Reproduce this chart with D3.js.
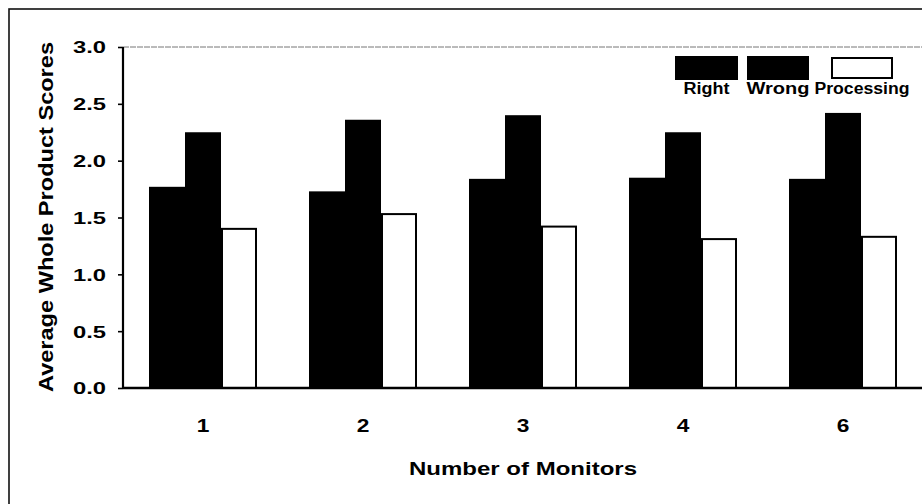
<!DOCTYPE html>
<html>
<head>
<meta charset="utf-8">
<script src="https://cdn.jsdelivr.net/npm/d3@7"></script>
<style>
  html, body { margin: 0; padding: 0; background: #fff; }
  svg { display: block; }
  text { font-family: "Liberation Sans", Arial, Helvetica, sans-serif; font-weight: bold; fill: #000; }
</style>
</head>
<body>
<svg id="chart" width="922" height="504"></svg>
<script>
// Average whole product scores by number of monitors
const categories = ["1", "2", "3", "4", "6"];
const seriesNames = ["Right", "Wrong", "Processing"];
const rightScores = [1.77, 1.73, 1.84, 1.85, 1.84];
const wrongScores = [2.25, 2.36, 2.40, 2.25, 2.42];
const processingScores = [1.40, 1.53, 1.42, 1.31, 1.33];
const yTicks = [0, 0.5, 1.0, 1.5, 2.0, 2.5, 3.0];

const seriesValues = { Right: rightScores, Wrong: wrongScores, Processing: processingScores };
const seriesFill = { Right: "#000", Wrong: "#000", Processing: "#fff" };

const svg = d3.select("#chart");
const W = 922, H = 504;
const plot = { left: 123, right: 923, top: 47, bottom: 388 };

// outer frame (runs off the right and bottom edges)
svg.append("rect")
  .attr("x", 9).attr("y", 9)
  .attr("width", W + 20).attr("height", H + 20)
  .attr("fill", "none").attr("stroke", "#111").attr("stroke-width", 1.6);

const x = d3.scaleBand()
  .domain(categories)
  .range([plot.left, plot.right])
  .paddingInner(0.325)
  .paddingOuter(0.1625);

const xSub = d3.scaleBand()
  .domain(seriesNames)
  .range([0, x.bandwidth()])
  .padding(0);

const y = d3.scaleLinear().domain([0, 3]).range([plot.bottom, plot.top]);

// faint top edge of the plot area
svg.append("line")
  .attr("x1", plot.left).attr("x2", W)
  .attr("y1", plot.top).attr("y2", plot.top)
  .attr("stroke", "#777").attr("stroke-width", 1)
  .attr("stroke-dasharray", "6,1");

// bars
const rows = categories.map((c, i) => ({
  cat: c,
  vals: seriesNames.map(s => ({ series: s, value: seriesValues[s][i] }))
}));

const groups = svg.append("g").selectAll("g")
  .data(rows).join("g")
  .attr("transform", d => `translate(${x(d.cat)},0)`);

groups.selectAll("rect")
  .data(d => d.vals).join("rect")
  .attr("x", d => xSub(d.series) + (d.series === "Processing" ? 1 : 0))
  .attr("y", d => y(d.value))
  .attr("width", d => xSub.bandwidth() - (d.series === "Processing" ? 2 : 0))
  .attr("height", d => y(0) - y(d.value))
  .attr("fill", d => seriesFill[d.series])
  .attr("stroke", d => d.series === "Processing" ? "#000" : "none")
  .attr("stroke-width", 2);

// y axis
const yAxis = svg.append("g")
  .attr("transform", `translate(${plot.left},0)`)
  .call(d3.axisLeft(y).tickValues(yTicks).tickFormat(d3.format(".1f")).tickSize(5).tickPadding(12));
yAxis.select(".domain").attr("stroke", "#000").attr("stroke-width", 2.2)
  .attr("d", `M0,${plot.top}V${plot.bottom}`);
yAxis.selectAll(".tick line").attr("stroke", "#000").attr("stroke-width", 1.6);
yAxis.selectAll(".tick text")
  .attr("font-size", 16.5)
  .attr("textLength", 33)
  .attr("lengthAdjust", "spacingAndGlyphs")
  .attr("dy", "0.36em")
  .style("font-family", "'Liberation Sans', Arial, sans-serif")
  .style("font-weight", "bold");

// x axis
const xAxis = svg.append("g")
  .attr("transform", `translate(0,${plot.bottom})`)
  .call(d3.axisBottom(x).tickSize(0).tickPadding(32));
xAxis.select(".domain").attr("stroke", "#000").attr("stroke-width", 2.6)
  .attr("d", `M${plot.left},0H${W}`);
xAxis.selectAll(".tick text")
  .attr("font-size", 17.5)
  .attr("transform", "scale(1.3,1)")
  .style("font-family", "'Liberation Sans', Arial, sans-serif")
  .style("font-weight", "bold");

// axis titles
svg.append("text")
  .attr("transform", `translate(53,217) rotate(-90)`)
  .attr("text-anchor", "middle")
  .attr("font-size", 20)
  .attr("textLength", 350)
  .attr("lengthAdjust", "spacingAndGlyphs")
  .text("Average Whole Product Scores");

svg.append("text")
  .attr("x", 523).attr("y", 475)
  .attr("text-anchor", "middle")
  .attr("font-size", 19)
  .attr("textLength", 228)
  .attr("lengthAdjust", "spacingAndGlyphs")
  .text("Number of Monitors");

// legend
const legendItems = [
  { name: "Right", x: 675, w: 63, textW: 46 },
  { name: "Wrong", x: 747, w: 62, textW: 63 },
  { name: "Processing", x: 832, w: 60, textW: 95 }
];
const legend = svg.append("g");
legendItems.forEach(it => {
  const outlined = seriesFill[it.name] === "#fff";
  legend.append("rect")
    .attr("x", it.x).attr("y", outlined ? 58 : 56)
    .attr("width", it.w).attr("height", outlined ? 20 : 24)
    .attr("fill", seriesFill[it.name])
    .attr("stroke", outlined ? "#000" : "none")
    .attr("stroke-width", 2);
  legend.append("text")
    .attr("x", it.x + it.w / 2).attr("y", 94)
    .attr("text-anchor", "middle")
    .attr("font-size", 16)
    .attr("textLength", it.textW)
    .attr("lengthAdjust", "spacingAndGlyphs")
    .text(it.name);
});
</script>
</body>
</html>
